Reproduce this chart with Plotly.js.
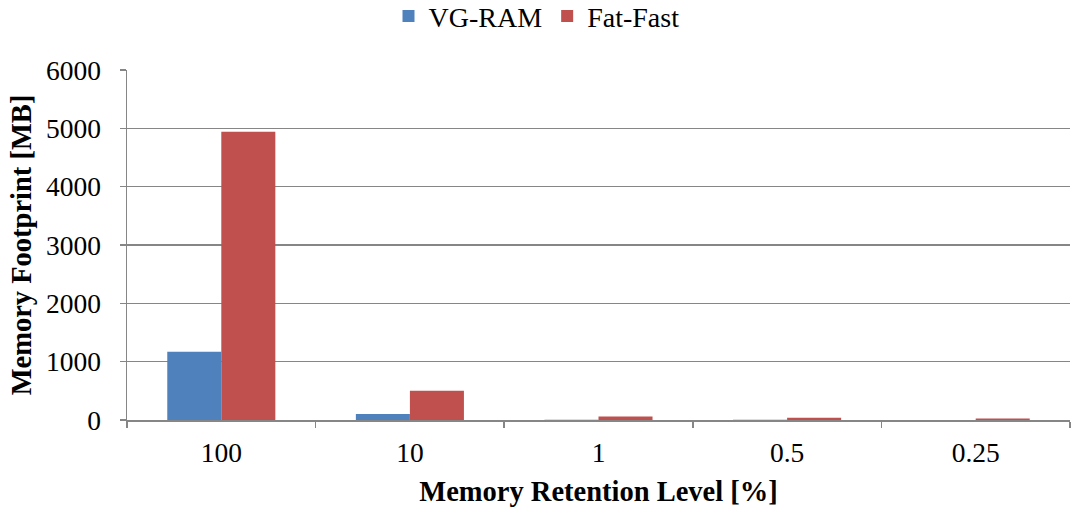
<!DOCTYPE html>
<html>
<head>
<meta charset="utf-8">
<script src="https://cdn.plot.ly/plotly-3.0.1.min.js"></script>
<style>html,body{margin:0;padding:0;background:#fff;}#chart{width:1073px;height:513px;}</style>
</head>
<body>
<div id="chart"></div>
<script>
const categories = ["100", "10", "1", "0.5", "0.25"];
const vgRam = [1170, 105, 5, 3, 2];
const fatFast = [4940, 500, 60, 38, 25];
const seriesNames = ["VG-RAM", "Fat-Fast"];
const yTicks = [0, 1000, 2000, 3000, 4000, 5000, 6000];

const font = "'Liberation Serif'";
const traces = [
  {type: "bar", name: seriesNames[0], x: categories, y: vgRam, marker: {color: "#4F81BD"}},
  {type: "bar", name: seriesNames[1], x: categories, y: fatFast, marker: {color: "#C0504D"}}
];
const layout = {
  width: 1073, height: 513,
  margin: {l: 127, r: 3, t: 70, b: 93, autoexpand: false},
  paper_bgcolor: "#fff", plot_bgcolor: "#fff",
  font: {family: font, size: 27.5, color: "#000"},
  barmode: "group", bargap: 0.427, bargroupgap: 0,
  showlegend: true,
  legend: {orientation: "h", x: 0.5, xref: "container", xanchor: "center", yref: "container", y: 0.968, yanchor: "middle",
           font: {family: font, size: 28}, itemwidth: 30, tracegroupgap: 0},
  xaxis: {type: "category", showline: true, linecolor: "#868686", linewidth: 1.5,
          ticks: "outside", tickson: "boundaries", ticklen: 6, tickcolor: "#868686", tickwidth: 1.5,
          showgrid: false, tickfont: {family: font, size: 27.5}, automargin: false, ticklabelstandoff: 7,
          title: {text: "<b>Memory Retention Level [%]</b>", font: {family: font, size: 28.5}, standoff: 14}},
  yaxis: {range: [0, 6000], tickvals: yTicks, showline: true, linecolor: "#868686", linewidth: 1.5,
          ticks: "outside", ticklen: 6, tickcolor: "#868686", tickwidth: 1.5, automargin: false,
          showgrid: true, gridcolor: "#868686", gridwidth: 1.5, zeroline: false, ticklabelstandoff: 13,
          tickfont: {family: font, size: 27.5},
          title: {text: "<b>Memory Footprint [MB]</b>", font: {family: font, size: 28.5}, standoff: 6}}
};
Plotly.newPlot("chart", traces, layout, {displayModeBar: false, staticPlot: true});
</script>
</body>
</html>
